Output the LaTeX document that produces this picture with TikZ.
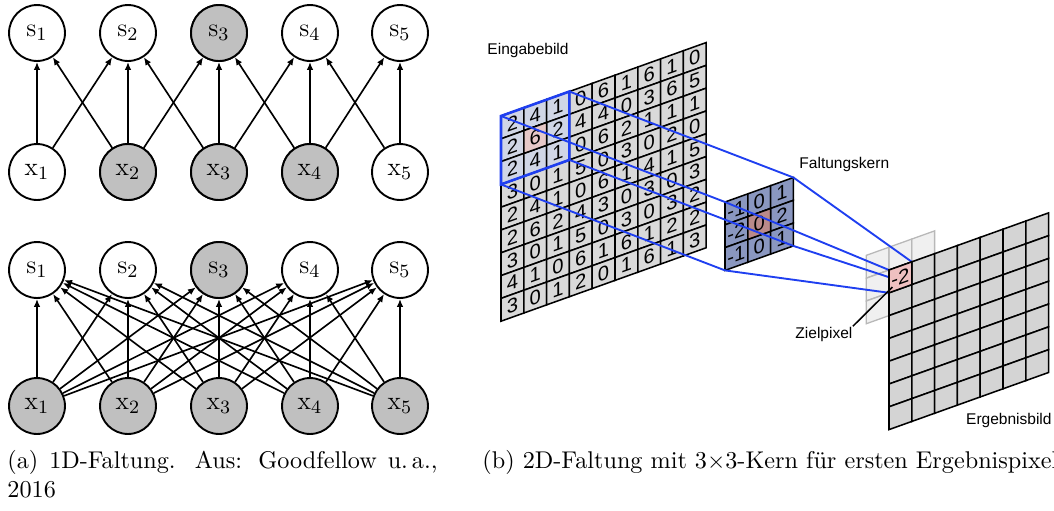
\documentclass[tikz,border=0pt]{standalone}
\usepackage{fontspec}
\setsansfont{Liberation Sans}
\usepackage{amsmath}
\usetikzlibrary{arrows.meta}
\definecolor{ngray}{HTML}{C0C0C0}
\definecolor{cgray}{HTML}{D9D9D9}
\definecolor{hblue}{HTML}{D0D6E6}
\definecolor{hpink}{HTML}{E6C8C8}
\definecolor{kblue}{HTML}{8A97C0}
\definecolor{kpink}{HTML}{B98A8A}
\definecolor{opink}{HTML}{EFC0C0}
\definecolor{ogray}{HTML}{D4D4D4}
\definecolor{lblue}{HTML}{1F3FF0}
\definecolor{ghst}{HTML}{E6E6E6}
\def\csz{22.8}
\tikzset{
  nd/.style  ={circle, draw=black, fill=white, line width=0.8pt, minimum size=23.8pt,
               inner sep=0pt, font=\fontsize{11}{13}\selectfont},
  ndg/.style ={nd, fill=ngray},
  ar/.style  ={-{Latex[length=3.4pt,width=2.8pt]}, line width=0.7pt},
  cell/.style={draw=black, line width=0.65pt, fill=cgray},
  num/.style ={transform shape, inner sep=0pt, font=\sffamily\fontsize{8.6}{9}\selectfont},
  lnk/.style ={draw=lblue, line width=0.8pt},
  lbl/.style ={inner sep=0pt, font=\sffamily\fontsize{6.6}{7.5}\selectfont},
  capt/.style={inner sep=0pt, font=\fontsize{10.3}{12.4}\selectfont},
  shr/.style ={cm={1,0.358,0,1,(0,0)}},
}

\begin{document}
\begin{tikzpicture}[x=0.4255pt, y=-0.4255pt]
\useasboundingbox (0,0) rectangle (1054,510);

% (a) 1D convolution, sparse
\foreach \i/\px in {1/37,2/128,3/219,4/310,5/400} {
  \node[nd] (sa\i) at (\px,33) {$\mathrm{s}_\i$};
  \node[nd] (xa\i) at (\px,172) {$\mathrm{x}_\i$};
}
\node[ndg] at (sa3) {$\mathrm{s}_3$};
\node[ndg] at (xa2) {$\mathrm{x}_2$};
\node[ndg] at (xa3) {$\mathrm{x}_3$};
\node[ndg] at (xa4) {$\mathrm{x}_4$};
\foreach \i in {1,...,5} {
  \foreach \j in {1,...,5} {
    \pgfmathtruncatemacro{\dd}{abs(\i-\j)}
    \ifnum\dd<2 \draw[ar] (xa\i) -- (sa\j); \fi
  }
}

% (a) dense layer
\foreach \i/\px in {1/37,2/128,3/219,4/310,5/400} {
  \node[nd] (sb\i) at (\px,270) {$\mathrm{s}_\i$};
  \node[ndg] (xb\i) at (\px,406) {$\mathrm{x}_\i$};
}
\node[ndg] at (sb3) {$\mathrm{s}_3$};
\foreach \i in {1,...,5} {
  \foreach \j in {1,...,5} {
    \draw[ar] (xb\i) -- (sb\j);
  }
}

% (b) input image
\begin{scope}[shift={(501,116)}, shr]
  \foreach \r in {0,...,8} {
    \foreach \c in {0,...,8} {
      \draw[cell] (\c*\csz,\r*\csz) rectangle ++(\csz,\csz);
    }
  }
  \foreach \r in {0,1,2} {
    \foreach \c in {0,1,2} {
      \draw[cell, fill=hblue] (\c*\csz,\r*\csz) rectangle ++(\csz,\csz);
    }
  }
  \draw[cell, fill=hpink] (\csz,\csz) rectangle ++(\csz,\csz);
  \foreach \row [count=\r from 0] in {{2,4,1,0,6,1,6,1,0},{2,6,2,4,4,0,3,6,5},
      {2,4,1,0,6,2,1,1,1},{3,0,1,5,0,3,0,2,0},{2,4,1,0,6,1,4,1,5},
      {2,6,2,4,3,0,3,0,3},{3,0,1,5,0,3,0,3,2},{4,1,0,6,1,6,1,2,2},
      {3,0,1,2,0,1,6,1,3}} {
    \foreach \v [count=\c from 0] in \row {
      \node[num] (in-\r-\c) at ({(\c+0.5)*\csz},{(\r+0.5)*\csz}) {\v};
    }
  }
  \draw[lnk, line width=1.1pt] (0,0) rectangle (3*\csz,3*\csz);
  \coordinate (iTL) at (0,0);
  \coordinate (iTR) at (3*\csz,0);
  \coordinate (iBL) at (0,3*\csz);
  \coordinate (iBR) at (3*\csz,3*\csz);
\end{scope}

% (b) kernel
\begin{scope}[shift={(725,202)}, shr]
  \foreach \r in {0,1,2} {
    \foreach \c in {0,1,2} {
      \draw[cell, fill=kblue] (\c*\csz,\r*\csz) rectangle ++(\csz,\csz);
    }
  }
  \draw[cell, fill=kpink] (\csz,\csz) rectangle ++(\csz,\csz);
  \foreach \row [count=\r from 0] in {{-1,0,1},{-2,0,2},{-1,0,1}} {
    \foreach \v [count=\c from 0] in \row {
      \node[num] (k-\r-\c) at ({(\c+0.5)*\csz},{(\r+0.5)*\csz}) {\v};
    }
  }
  \coordinate (kTL) at (0,0);
  \coordinate (kTR) at (3*\csz,0);
  \coordinate (kBL) at (0,3*\csz);
  \coordinate (kBR) at (3*\csz,3*\csz);
\end{scope}

% kernel footprint on the result image
\begin{scope}[shift={(889,270)}, shr]
  \foreach \r in {-1,0,1} {
    \foreach \c in {-1,0,1} {
      \draw[draw=black!28, line width=0.55pt, fill=ghst, fill opacity=0.6]
        (\c*\csz,\r*\csz) rectangle ++(\csz,\csz);
    }
  }
  \coordinate (oTL) at (0,0);
  \coordinate (oTR) at (\csz,0);
  \coordinate (oBL) at (0,\csz);
  \coordinate (oBR) at (\csz,\csz);
  \coordinate (zt) at (0.15*\csz,0.8*\csz);
\end{scope}

\draw[lnk] (iTL) -- (kTL);
\draw[lnk] (iTR) -- (kTR);
\draw[lnk] (iBL) -- (kBL);
\draw[lnk] (iBR) -- (kBR);
\draw[lnk] (kTL) -- (oTL);
\draw[lnk] (kTR) -- (oTR);
\draw[lnk] (kBL) -- (oBL);
\draw[lnk] (kBR) -- (oBR);

% (b) result image
\begin{scope}[shift={(889,270)}, shr]
  \foreach \r in {0,...,6} {
    \foreach \c in {0,...,6} {
      \draw[cell, fill=ogray] (\c*\csz,\r*\csz) rectangle ++(\csz,\csz);
    }
  }
  \draw[cell, fill=opink] (0,0) rectangle (\csz,\csz);
  \node[num] (out) at (0.5*\csz,0.5*\csz) {-2};
\end{scope}

\node[lbl, anchor=base west] (eb) at (487,54) {Eingabebild};
\node[lbl, anchor=base west] (fk) at (799,168) {Faltungskern};
\node[lbl, anchor=base west] (zl) at (795,338) {Zielpixel};
\node[lbl, anchor=base east] (rb) at (1052,424) {Ergebnisbild};
\draw[line width=0.65pt] (zl.north east) -- (zt);

% captions
\node[capt, anchor=north west, text width=183pt, align=justify] (capa) at (7,450)
  {(a) 1D-Faltung. Aus: Goodfellow u.\,a., \linebreak 2016};
\node[capt, anchor=north west] (capb) at (482,450)
  {(b) 2D-Faltung mit 3$\times$3-Kern für ersten Ergebnispixel};

\end{tikzpicture}
\end{document}
